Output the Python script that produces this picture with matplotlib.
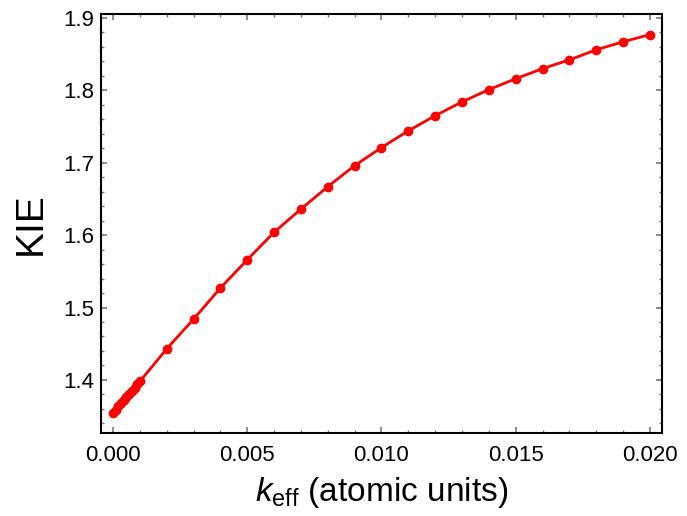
import matplotlib
matplotlib.use('Agg')
import matplotlib.pyplot as plt
from matplotlib.ticker import MultipleLocator

plt.rcParams['font.family'] = ['Liberation Sans', 'DejaVu Sans']
plt.rcParams['mathtext.fontset'] = 'custom'
plt.rcParams['mathtext.rm'] = 'Liberation Sans'
plt.rcParams['mathtext.it'] = 'Liberation Sans:italic'

# k_eff values (atomic units) and KIE
k_eff = [0.0000, 0.0001, 0.0002, 0.0003, 0.0004, 0.0005, 0.0006, 0.0007, 0.0008, 0.0009,
         0.0010, 0.002, 0.003, 0.004, 0.005, 0.006, 0.007, 0.008, 0.009, 0.010,
         0.011, 0.012, 0.013, 0.014, 0.015, 0.016, 0.017, 0.018, 0.019, 0.020]
kie = [1.355, 1.359, 1.364, 1.368, 1.372, 1.377, 1.381, 1.385, 1.389, 1.394,
       1.398, 1.443, 1.484, 1.527, 1.566, 1.604, 1.636, 1.667, 1.696, 1.721,
       1.744, 1.765, 1.784, 1.801, 1.816, 1.830, 1.842, 1.856, 1.867, 1.877]

fig = plt.figure(figsize=(6.87, 5.16), dpi=100)
ax = fig.add_axes([0.147, 0.161, 0.8166, 0.812])

ax.plot(k_eff, kie, color='red', lw=2, marker='o', ms=6, clip_on=False)

ax.set_xlim(-0.00045, 0.02045)
ax.set_ylim(1.3268, 1.9055)
ax.xaxis.set_major_locator(MultipleLocator(0.005))
ax.xaxis.set_minor_locator(MultipleLocator(0.001))
ax.yaxis.set_major_locator(MultipleLocator(0.1))
ax.yaxis.set_minor_locator(MultipleLocator(0.02))
ax.xaxis.set_major_formatter(matplotlib.ticker.FormatStrFormatter('%.3f'))
ax.yaxis.set_major_formatter(matplotlib.ticker.FormatStrFormatter('%.1f'))

ax.tick_params(which='both', direction='in', top=True, right=True, color='#777777')
ax.tick_params(which='major', length=4, width=1.2, labelsize=16)
ax.tick_params(axis='x', which='major', pad=9)
ax.tick_params(axis='y', which='major', pad=5)
ax.tick_params(which='minor', length=2.5, width=1.0)
for s in ax.spines.values():
    s.set_linewidth(1.5)

ax.set_xlabel(r'$k_{\mathrm{eff}}$ (atomic units)', fontsize=24, labelpad=6)
ax.set_ylabel('KIE', fontsize=28, labelpad=10)

fig.savefig('out.png', dpi=100)
